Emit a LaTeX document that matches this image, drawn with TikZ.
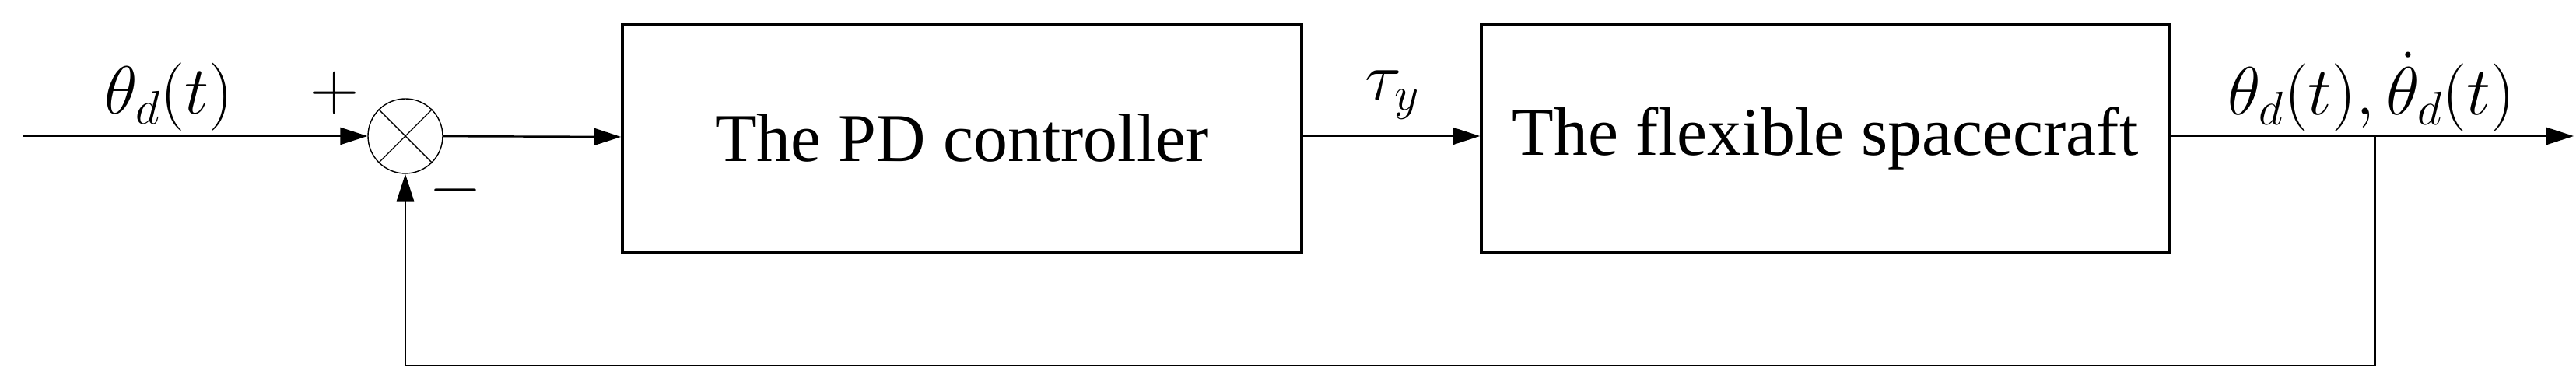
\documentclass[tikz,border=0pt]{standalone}
\usepackage{fontspec}
\setmainfont{Liberation Serif}
\usetikzlibrary{positioning,arrows.meta}

\begin{document}
\begin{tikzpicture}[every node/.style={font=\fontsize{25}{30}\selectfont}, line width=0.7pt]
\useasboundingbox (0,0) rectangle (33.11,5);
\tikzset{block/.style={draw, rectangle, line width=1pt, minimum height=2.93cm, inner sep=0pt},
  sig/.style={-{Triangle[length=0.35cm, width=0.22cm]}}}
% input and summing junction
\coordinate (in) at (0.3,3.25);
\node[draw, circle, minimum size=0.96cm, inner sep=0pt, line width=0.4pt] (sum) at (5.21,3.25) {};
\draw[line width=0.4pt] (sum.north east) -- (sum.south west) (sum.north west) -- (sum.south east);

% blocks
\node[block, minimum width=8.73cm] (pd) at (12.365,3.225) {The PD controller};
\node[block, minimum width=8.84cm] (sc) at (23.46,3.225) {The flexible spacecraft};

% output and feedback
\coordinate (out) at (33.08,3.25);
\coordinate (br) at (30.53,3.25);
\coordinate (fb) at (30.53,0.3);
\coordinate (fs) at (5.21,0.3);

\draw[sig] (in) -- (sum);
\draw[sig] (sum) -- (pd);
\draw[sig] (pd.east |- sum) -- (sc.west |- sum);
\draw[sig] (sc.east |- sum) -- (out);
\draw[sig] (br) -- (fb) -- (fs) -- (sum);

% labels
\node at (2.17,3.75) {$\theta_d(t)$};
\node at (4.3,3.8) {$+$};
\node at (5.85,2.55) {$-$};
\node at (17.9,3.78) {$\tau_y$};
\node at (30.48,3.82) {$\theta_d(t),\dot{\theta}_d(t)$};
\end{tikzpicture}
\end{document}
